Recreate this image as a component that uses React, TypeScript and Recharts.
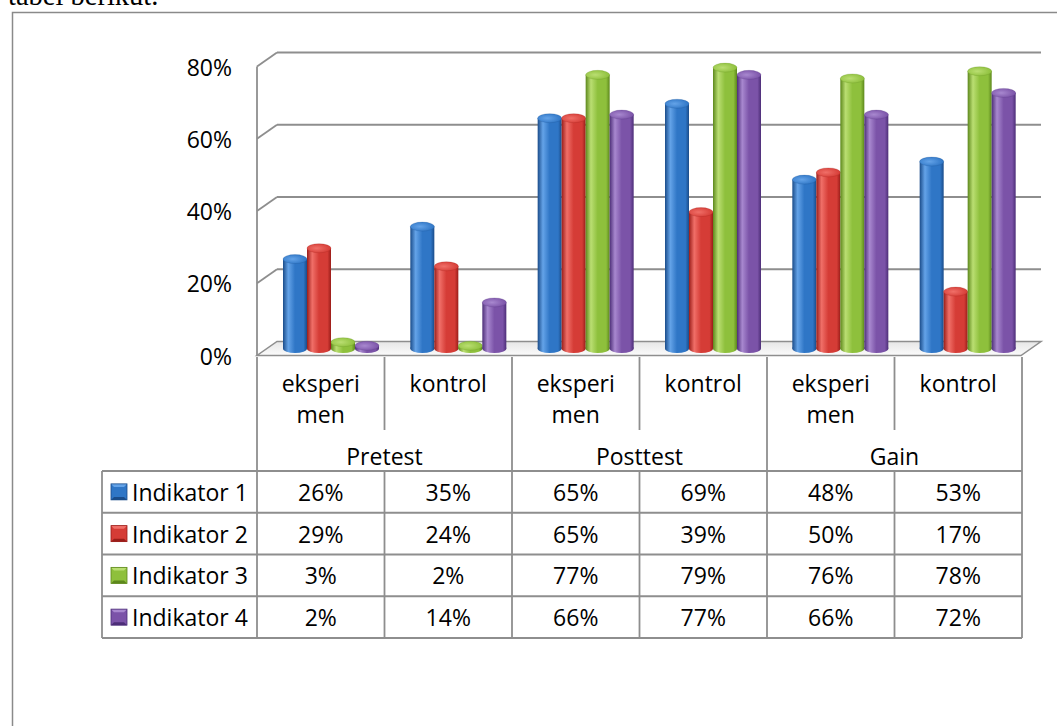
import React from "react";
import { BarChart, Bar, XAxis, YAxis, CartesianGrid } from "recharts";

// ---- data ----
const subLabels = ["eksperi\nmen", "kontrol", "eksperi\nmen", "kontrol", "eksperi\nmen", "kontrol"];
const groupLabels = ["Pretest", "Posttest", "Gain"];
const seriesNames = ["Indikator 1", "Indikator 2", "Indikator 3", "Indikator 4"];
const indikator1 = [26, 35, 65, 69, 48, 53];
const indikator2 = [29, 24, 65, 39, 50, 17];
const indikator3 = [3, 2, 77, 79, 76, 78];
const indikator4 = [2, 14, 66, 77, 66, 72];
const yTicks = [0, 20, 40, 60, 80];
const topText = "tabel berikut.";

const seriesValues = [indikator1, indikator2, indikator3, indikator4];
const seriesKeys = ["i1", "i2", "i3", "i4"];

const palette = [
  { dark: "#1a4c8a", base: "#2f76c6", light: "#64a3e8" },
  { dark: "#9a1d19", base: "#d53c36", light: "#f06f68" },
  { dark: "#5d881c", base: "#8ec03c", light: "#bade72" },
  { dark: "#4d2e78", base: "#7b53a8", light: "#a888cf" },
];

const rows = subLabels.map((c, i) => ({
  cat: c,
  i1: indikator1[i],
  i2: indikator2[i],
  i3: indikator3[i],
  i4: indikator4[i],
}));

// ---- geometry ----
const CW = 1057;
const CH = 370;
const DX = 10; // half depth offset x
const DY = 7; // half depth offset y
const GRID = "#8e8e8e";
const FONT = "'Open Sans', sans-serif";
const FS = 23;

const Cylinder = (props: any) => {
  const { x, y, width, height, sIdx } = props;
  if (!width || height == null || height <= 0) return null;
  const rx = width / 2;
  const ry = 4.5;
  const cx = x + rx;
  const botY = y + height;
  const topY = Math.min(y + ry, botY);
  return (
    <g>
      <ellipse cx={cx} cy={botY} rx={rx} ry={ry} fill={`url(#body${sIdx})`} />
      <rect x={x} y={topY} width={width} height={botY - topY} fill={`url(#body${sIdx})`} />
      <ellipse cx={cx} cy={topY} rx={rx} ry={ry} fill={`url(#top${sIdx})`} stroke={palette[sIdx].dark} strokeOpacity={0.35} strokeWidth={0.6} />
    </g>
  );
};

const gridLine = (p: any) => {
  const { x1, y1, x2, index } = p;
  const bottom = p.y != null && p.height != null ? p.y + p.height : null;
  const top = p.y != null ? p.y : null;
  const isBottom = bottom != null ? Math.abs(y1 - bottom) < 1 : index === 0;
  const isTop = top != null ? Math.abs(y1 - top) < 1 : false;
  if (isBottom) {
    return (
      <g key={`g-${index}`}>
        <polygon
          points={`${x1 - DX},${y1 + DY} ${x2 - DX},${y1 + DY} ${x2 + DX},${y1 - DY} ${x1 + DX},${y1 - DY}`}
          fill="url(#floorGrad)"
          stroke={GRID}
          strokeWidth={1.5}
        />
      </g>
    );
  }
  return (
    <g key={`g-${index}`}>
      <line x1={x1 - DX} y1={y1 + DY} x2={x1 + DX} y2={y1 - DY} stroke={GRID} strokeWidth={1.8} />
      <line x1={x1 + DX} y1={y1 - DY} x2={x2 + DX} y2={y1 - DY} stroke={GRID} strokeWidth={1.8} />
      {isTop && bottom != null ? (
        <line x1={x1 - DX} y1={y1 + DY} x2={x1 - DX} y2={bottom + DY} stroke={GRID} strokeWidth={1.8} />
      ) : null}
    </g>
  );
};

const yTick = (p: any) => (
  <text
    x={p.x}
    y={p.y + DY}
    textAnchor="end"
    dominantBaseline="central"
    fontFamily={FONT}
    fontSize={FS}
    fill="#000"
  >
    {`${p.payload.value}%`}
  </text>
);

const LegendKey = ({ x, y, c }: { x: number; y: number; c: (typeof palette)[number] }) => {
  const w = 16;
  const h = 16;
  return (
    <g>
      <rect x={x} y={y} width={w} height={h} fill={c.base} />
      <polygon points={`${x},${y} ${x + w},${y} ${x + w - 3},${y + 3} ${x + 3},${y + 3}`} fill={c.light} />
      <polygon points={`${x},${y + h} ${x + w},${y + h} ${x + w - 3},${y + h - 3} ${x + 3},${y + h - 3}`} fill={c.dark} />
      <rect x={x} y={y} width={w} height={h} fill="none" stroke={c.dark} strokeWidth={0.8} />
    </g>
  );
};

const DataTable = () => {
  const colX = [257, 384.5, 512, 639.5, 767, 894.5, 1022];
  const headTop = 357;
  const subBottom = 430;
  const groupBottom = 471;
  const rowH = (638 - 471) / 4;
  const rowY = [0, 1, 2, 3, 4].map((i) => groupBottom + i * rowH);
  const left = 102;
  const lw = 1.8;
  const els: React.ReactNode[] = [];
  rowY.forEach((ry, i) =>
    els.push(<line key={`h${i}`} x1={left} y1={ry} x2={colX[6]} y2={ry} stroke={GRID} strokeWidth={lw} />)
  );
  els.push(<line key="vl" x1={left} y1={groupBottom} x2={left} y2={rowY[4]} stroke={GRID} strokeWidth={lw} />);
  colX.forEach((cx, i) => {
    if (i % 2 === 0) {
      els.push(<line key={`v${i}`} x1={cx} y1={headTop} x2={cx} y2={rowY[4]} stroke={GRID} strokeWidth={lw} />);
    } else {
      els.push(<line key={`va${i}`} x1={cx} y1={headTop} x2={cx} y2={subBottom} stroke={GRID} strokeWidth={lw} />);
      els.push(<line key={`vb${i}`} x1={cx} y1={groupBottom} x2={cx} y2={rowY[4]} stroke={GRID} strokeWidth={lw} />);
    }
  });
  subLabels.forEach((lab, i) => {
    const cx = (colX[i] + colX[i + 1]) / 2;
    lab.split("\n").forEach((ln, j) =>
      els.push(
        <text key={`s${i}-${j}`} x={cx} y={383 + j * 31} textAnchor="middle" dominantBaseline="central" fontFamily={FONT} fontSize={FS}>
          {ln}
        </text>
      )
    );
  });
  groupLabels.forEach((g, i) => {
    const cx = (colX[i * 2] + colX[i * 2 + 2]) / 2;
    els.push(
      <text key={`g${i}`} x={cx} y={456} textAnchor="middle" dominantBaseline="central" fontFamily={FONT} fontSize={FS}>
        {g}
      </text>
    );
  });
  seriesNames.forEach((n, r) => {
    const cy = (rowY[r] + rowY[r + 1]) / 2;
    els.push(<LegendKey key={`k${r}`} x={111} y={cy - 8} c={palette[r]} />);
    els.push(
      <text key={`n${r}`} x={132} y={cy} dominantBaseline="central" fontFamily={FONT} fontSize={FS}>
        {n}
      </text>
    );
    seriesValues[r].forEach((v, i) => {
      const cx = (colX[i] + colX[i + 1]) / 2;
      els.push(
        <text key={`d${r}-${i}`} x={cx} y={cy} textAnchor="middle" dominantBaseline="central" fontFamily={FONT} fontSize={FS}>
          {`${v}%`}
        </text>
      );
    });
  });
  return (
    <svg width={CW} height={726} style={{ position: "absolute", left: 0, top: 0, pointerEvents: "none" }}>
      {els}
    </svg>
  );
};

export default function App() {
  return (
    <div style={{ position: "absolute", left: 0, top: 0, width: CW, height: 726, background: "#fff", overflow: "hidden" }}>
      <svg width={CW} height={726} style={{ position: "absolute", left: 0, top: 0 }}>
        <text x={8} y={5} fontFamily="'Liberation Serif', 'Times New Roman', serif" fontSize={28.5} fill="#000">
          {topText}
        </text>
        <rect x={12.5} y={12.5} width={1200} height={900} fill="none" stroke="#8a8a8a" strokeWidth={1.5} />
      </svg>
      <div style={{ position: "absolute", left: 0, top: 0 }}>
        <BarChart
          width={CW}
          height={CH}
          data={rows}
          margin={{ top: 59.5, right: 26, bottom: CH - 348.5, left: 0 }}
          barCategoryGap={16}
          barGap={0}
        >
          <defs>
            {palette.map((c, i) => (
              <linearGradient key={`b${i}`} id={`body${i}`} x1="0" y1="0" x2="1" y2="0">
                <stop offset="0%" stopColor={c.dark} />
                <stop offset="22%" stopColor={c.light} />
                <stop offset="50%" stopColor={c.base} />
                <stop offset="85%" stopColor={c.base} />
                <stop offset="100%" stopColor={c.dark} />
              </linearGradient>
            ))}
            {palette.map((c, i) => (
              <radialGradient key={`t${i}`} id={`top${i}`} cx="40%" cy="50%" r="60%">
                <stop offset="0%" stopColor={c.light} />
                <stop offset="100%" stopColor={c.base} />
              </radialGradient>
            ))}
            <linearGradient id="floorGrad" x1="0" y1="0" x2="0" y2="1">
              <stop offset="0%" stopColor="#e6e6e6" />
              <stop offset="100%" stopColor="#fbfbfb" />
            </linearGradient>
          </defs>
          <CartesianGrid horizontal={gridLine} vertical={false} />
          <XAxis dataKey="cat" hide />
          <YAxis
            domain={[0, 80]}
            ticks={yTicks}
            tick={yTick}
            axisLine={false}
            tickLine={false}
            tickSize={0}
            tickMargin={35}
            width={267}
            interval={0}
          />
          {seriesKeys.map((k, i) => (
            <Bar
              key={k}
              dataKey={k}
              name={seriesNames[i]}
              fill={palette[i].base}
              isAnimationActive={false}
              shape={(p: any) => <Cylinder {...p} sIdx={i} />}
            />
          ))}
        </BarChart>
      </div>
      <DataTable />
    </div>
  );
}
